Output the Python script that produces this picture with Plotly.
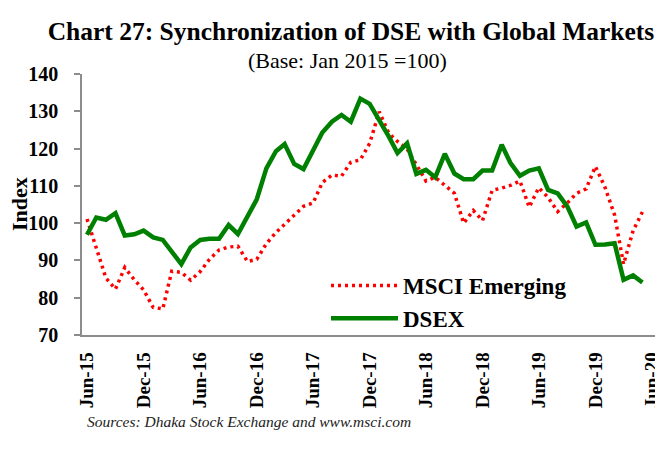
import plotly.graph_objects as go
import pandas as pd

# Monthly observations, Jun-2015 .. May-2020
months = pd.date_range("2015-06-01", periods=60, freq="MS")

msci_emerging = [101.1, 93.0, 85.3, 82.3, 88.1, 84.8, 82.1, 77.4, 77.0, 87.1,
                 86.8, 84.7, 87.0, 90.3, 92.8, 93.6, 93.8, 89.7, 90.3, 94.5,
                 97.5, 99.7, 102.0, 104.5, 105.4, 110.9, 112.9, 112.6, 116.3, 117.0,
                 121.4, 129.9, 124.1, 121.9, 119.9, 115.6, 111.3, 112.3, 110.0, 108.0,
                 100.0, 103.4, 100.7, 108.8, 109.4, 110.1, 111.3, 104.3, 109.5, 106.9,
                 103.1, 105.4, 108.0, 109.2, 115.2, 109.6, 102.2, 89.0, 98.0, 103.0]

dsex = [96.9, 101.5, 100.9, 102.7, 96.7, 97.0, 98.0, 96.2, 95.5, 92.2,
        89.0, 93.5, 95.5, 95.8, 95.8, 99.5, 97.1, 101.8, 106.4, 114.7,
        119.3, 121.2, 115.9, 114.5, 119.6, 124.3, 127.2, 129.0, 127.2, 133.4,
        132.0, 127.7, 123.2, 118.8, 121.4, 113.2, 114.3, 112.3, 118.6, 113.3,
        111.8, 111.8, 114.1, 114.1, 121.0, 116.2, 112.7, 114.1, 114.7, 108.9,
        108.0, 104.5, 99.1, 100.2, 94.2, 94.3, 94.6, 84.8, 86.0, 84.1]

tick_dates = ["2015-06-01", "2015-12-01", "2016-06-01", "2016-12-01", "2017-06-01",
              "2017-12-01", "2018-06-01", "2018-12-01", "2019-06-01", "2019-12-01",
              "2020-06-01"]
tick_labels = ["Jun-15", "Dec-15", "Jun-16", "Dec-16", "Jun-17", "Dec-17",
               "Jun-18", "Dec-18", "Jun-19", "Dec-19", "Jun-20"]
y_ticks = [70, 80, 90, 100, 110, 120, 130, 140]

SERIF = "Liberation Serif"
W, H = 655, 449          # page body has an 8px margin inside the 663x457 window
OFF = 8

def px(X):  # window x -> paper x
    return (X - OFF - 74) / 581

def py(Y):  # window y -> paper y
    return (327 - (Y - OFF)) / 261

fig = go.Figure()
fig.add_trace(go.Scatter(x=months, y=msci_emerging, mode="lines", name="<b>MSCI Emerging</b>",
                         line=dict(color="#FF0000", width=3.5, dash="3px,4px")))
fig.add_trace(go.Scatter(x=months, y=dsex, mode="lines", name="<b>DSEX</b>",
                         line=dict(color="#008000", width=4.5)))

fig.update_layout(
    width=W, height=H,
    margin=dict(l=74, r=0, t=66, b=122, autoexpand=False),
    paper_bgcolor="white", plot_bgcolor="white",
    font=dict(family=SERIF, color="black"),
    title=dict(text="<b>Chart 27: Synchronization of DSE with Global Markets</b>",
               font=dict(family=SERIF, size=25.5, color="black"),
               xref="container", x=(351 - OFF) / W, xanchor="center",
               yref="container", y=1 - (31 - OFF) / H, yanchor="middle"),
    showlegend=True,
    legend=dict(x=px(326), y=py(264), xanchor="left", yanchor="top",
                font=dict(family=SERIF, size=23, color="black"),
                bgcolor="rgba(0,0,0,0)", itemwidth=67, tracegroupgap=0),
    xaxis=dict(type="date", range=["2015-05-15 19:00", "2020-07-06 14:00"], automargin=False,
               tickvals=tick_dates, ticktext=tick_labels, tickangle=-90,
               ticklabeloverflow="allow",
               tickfont=dict(family=SERIF, size=19, color="black", weight="bold"),
               showgrid=False, zeroline=False, showline=True,
               linecolor="#8c8c8c", linewidth=1.5, ticks="", ticklabelstandoff=8),
    yaxis=dict(range=[70, 140], tickvals=y_ticks, automargin=False,
               tickfont=dict(family=SERIF, size=20, color="black", weight="bold"),
               showgrid=False, zeroline=False, showline=True,
               linecolor="#8c8c8c", linewidth=1.5, ticks="outside", ticklen=6,
               tickcolor="#8c8c8c", tickwidth=1.5, ticklabelstandoff=12),
    annotations=[
        dict(text="(Base: Jan 2015 =100)", xref="paper", yref="paper",
             x=px(347), y=py(60), xanchor="center", yanchor="middle",
             showarrow=False, font=dict(family=SERIF, size=22, color="black")),
        dict(text="<b>Index</b>", xref="paper", yref="paper",
             x=px(19), y=py(204), xanchor="center", yanchor="middle",
             textangle=-90, showarrow=False, font=dict(family=SERIF, size=22, color="black")),
        dict(text="<i>Sources: Dhaka Stock Exchange and www.msci.com</i>", xref="paper",
             yref="paper", x=px(85), y=py(421), xanchor="left",
             yanchor="middle", showarrow=False,
             font=dict(family=SERIF, size=15.5, color="#222222")),
    ],
)

fig.write_html("out.html")
